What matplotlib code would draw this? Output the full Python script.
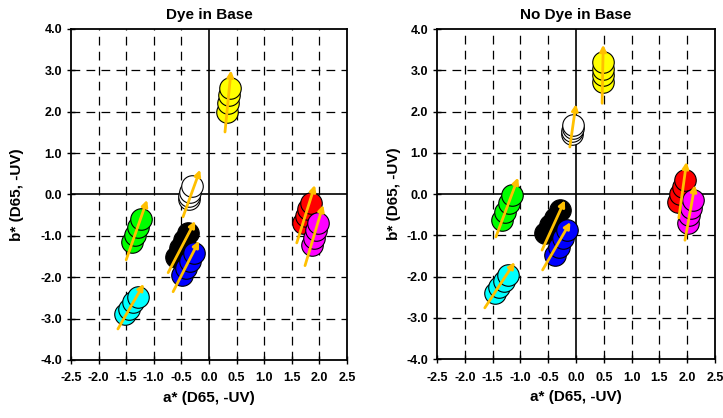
import numpy as np
import matplotlib.pyplot as plt

plt.rcParams['font.family'] = ['Liberation Sans', 'DejaVu Sans']
plt.rcParams['font.weight'] = 'bold'

# colours of the sample groups (face colour, open for white)
GROUP_COLORS = ["yellow", "white", "#00FF00", "cyan", "black", "blue", "red", "magenta"]

# ---- Dye in Base ----
dye_a = {
    "yellow": [0.32, 0.34, 0.36, 0.38],
    "white": [-0.37, -0.36, -0.34, -0.31],
    "#00FF00": [-1.39, -1.34, -1.28, -1.23],
    "cyan": [-1.52, -1.45, -1.37, -1.29],
    "black": [-0.60, -0.53, -0.45, -0.38],
    "blue": [-0.49, -0.42, -0.34, -0.27],
    "red": [1.70, 1.75, 1.80, 1.85],
    "magenta": [1.87, 1.90, 1.94, 1.98],
}
dye_b = {
    "yellow": [1.99, 2.20, 2.40, 2.57],
    "white": [-0.12, -0.03, 0.06, 0.20],
    "#00FF00": [-1.15, -0.97, -0.78, -0.60],
    "cyan": [-2.90, -2.76, -2.61, -2.47],
    "black": [-1.50, -1.30, -1.10, -0.92],
    "blue": [-1.95, -1.77, -1.60, -1.42],
    "red": [-0.70, -0.53, -0.36, -0.20],
    "magenta": [-1.22, -1.05, -0.87, -0.70],
}
# arrows: (a start, b start, a end, b end)
dye_arrows = {
    "yellow": (0.29, 1.51, 0.40, 3.00),
    "white": (-0.47, -0.54, -0.16, 0.60),
    "#00FF00": (-1.50, -1.58, -1.12, -0.13),
    "cyan": (-1.65, -3.25, -1.18, -2.16),
    "black": (-0.74, -1.89, -0.25, -0.64),
    "blue": (-0.65, -2.35, -0.18, -1.12),
    "red": (1.59, -1.17, 1.92, 0.23),
    "magenta": (1.74, -1.72, 2.07, -0.25),
}

# ---- No Dye in Base ----
nodye_a = {
    "yellow": [0.48, 0.48, 0.49, 0.49],
    "white": [-0.07, -0.07, -0.06, -0.05],
    "#00FF00": [-1.33, -1.27, -1.21, -1.15],
    "cyan": [-1.46, -1.38, -1.30, -1.22],
    "black": [-0.56, -0.47, -0.38, -0.29],
    "blue": [-0.38, -0.31, -0.23, -0.16],
    "red": [1.83, 1.87, 1.92, 1.96],
    "magenta": [2.01, 2.04, 2.07, 2.10],
}
nodye_b = {
    "yellow": [2.72, 2.88, 3.04, 3.20],
    "white": [1.45, 1.52, 1.60, 1.68],
    "#00FF00": [-0.63, -0.43, -0.22, -0.02],
    "cyan": [-2.40, -2.25, -2.11, -1.96],
    "black": [-0.95, -0.76, -0.58, -0.39],
    "blue": [-1.48, -1.28, -1.07, -0.87],
    "red": [-0.19, -0.01, 0.16, 0.34],
    "magenta": [-0.71, -0.52, -0.34, -0.15],
}
nodye_arrows = {
    "yellow": (0.47, 2.20, 0.49, 3.62),
    "white": (-0.11, 1.14, 0.00, 2.18),
    "#00FF00": (-1.44, -1.04, -1.04, 0.40),
    "cyan": (-1.64, -2.76, -1.10, -1.65),
    "black": (-0.61, -1.36, -0.20, -0.15),
    "blue": (-0.60, -1.84, -0.10, -0.68),
    "red": (1.85, -0.58, 1.99, 0.78),
    "magenta": (1.96, -1.12, 2.14, 0.22),
}

x_ticks = [-2.5, -2.0, -1.5, -1.0, -0.5, 0.0, 0.5, 1.0, 1.5, 2.0, 2.5]
y_ticks = [-4.0, -3.0, -2.0, -1.0, 0.0, 1.0, 2.0, 3.0, 4.0]

ARROW_COLOR = "#FFC000"


def draw_panel(ax, title, a_vals, b_vals, arrows, ylabel_pad):
    ax.set_xlim(-2.5, 2.5)
    ax.set_ylim(-4.0, 4.0)

    # dashed grid
    for x in x_ticks[1:-1]:
        if x != 0:
            ax.axvline(x, color="black", lw=0.9, ls=(0, (7, 5)), zorder=1)
    for y in y_ticks[1:-1]:
        if y != 0:
            ax.axhline(y, color="black", lw=0.9, ls=(0, (7, 5)), zorder=1)
    ax.axvline(0, color="black", lw=1.2, zorder=1)
    ax.axhline(0, color="black", lw=1.2, zorder=1)

    for color in GROUP_COLORS:
        a = a_vals[color]
        b = b_vals[color]
        # lower circles first, so the upper ones sit in front
        for i in range(len(a)):
            ax.plot(a[i], b[i], "o", ms=15.5, mfc=color, mec="black",
                    mew=0.8, zorder=3)
        x0, y0, x1, y1 = arrows[color]
        ax.annotate("", xy=(x1, y1), xytext=(x0, y0),
                    arrowprops=dict(arrowstyle="-|>", color=ARROW_COLOR,
                                    lw=2, mutation_scale=9,
                                    shrinkA=0, shrinkB=0),
                    zorder=4)

    ax.set_xticks(x_ticks)
    ax.set_yticks(y_ticks)
    ax.set_xticklabels([f"{v:.1f}" for v in x_ticks], fontsize=9, fontweight="bold")
    ax.set_yticklabels([f"{v:.1f}" for v in y_ticks], fontsize=9, fontweight="bold")
    ax.tick_params(direction="inout", length=6, width=1)
    ax.tick_params(axis="x", pad=6)
    for spine in ax.spines.values():
        spine.set_linewidth(1.3)
    ax.set_title(title, fontsize=11, fontweight="bold", pad=7)
    ax.set_xlabel("a* (D65, -UV)", fontsize=11, fontweight="bold", labelpad=5)
    ax.set_ylabel("b* (D65, -UV)", fontsize=11, fontweight="bold", labelpad=ylabel_pad)


fig = plt.figure(figsize=(7.23, 4.18), dpi=100)
ax1 = fig.add_axes([0.0982, 0.1388, 0.3817, 0.7919])
ax2 = fig.add_axes([0.6044, 0.1411, 0.3845, 0.7895])

draw_panel(ax1, "Dye in Base", dye_a, dye_b, dye_arrows, 12)
draw_panel(ax2, "No Dye in Base", nodye_a, nodye_b, nodye_arrows, 4)

fig.savefig("out.png", dpi=100)
